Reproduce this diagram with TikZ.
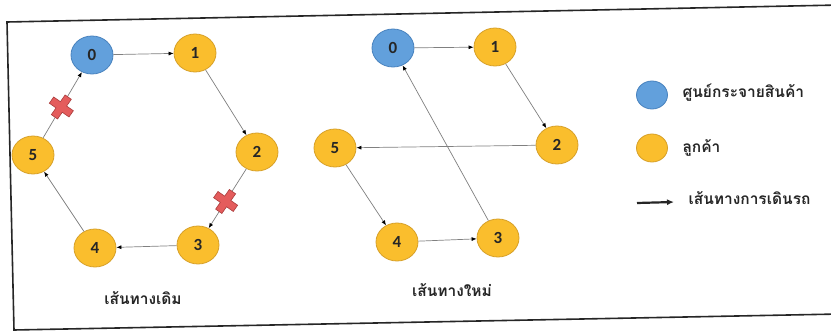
\documentclass[tikz,border=0pt]{standalone}
\usepackage{fontspec}
\usepackage{tikz}
\usetikzlibrary{arrows.meta,shapes.geometric}
\setmainfont{Carlito}
\newfontfamily\thaifont[Script=Thai]{Loma}
\definecolor{depotblue}{RGB}{98,160,220}
\definecolor{depotedge}{RGB}{72,130,190}
\definecolor{custyellow}{RGB}{250,190,45}
\definecolor{custedge}{RGB}{215,160,40}
\definecolor{crossred}{RGB}{228,92,92}
\definecolor{crossedge}{RGB}{170,60,60}
% red cross drawn on a cut route
\newcommand{\cutmark}[1]{
  \begin{scope}[shift={(#1)},rotate=-35]
    \filldraw[fill=crossred,draw=crossedge,line width=0.6pt]
      (-3.8,-12)--(3.8,-12)--(3.8,-3.8)--(12,-3.8)--(12,3.8)--(3.8,3.8)
      --(3.8,12)--(-3.8,12)--(-3.8,3.8)--(-12,3.8)--(-12,-3.8)--(-3.8,-3.8)--cycle;
  \end{scope}
}
\begin{document}
\begin{tikzpicture}[x=1pt,y=-1pt]
  \tikzstyle{depot}=[ellipse,fill=depotblue,draw=depotedge,line width=0.8pt,minimum width=42pt,minimum height=38pt,inner sep=0pt,font=\bfseries\fontsize{17}{17}\selectfont,text=black!85]
  \tikzstyle{customer}=[depot,fill=custyellow,draw=custedge]
  \tikzstyle{route}=[draw=black!50,line width=0.7pt,-{Latex[length=5pt,width=4pt,color=black]}]
  \tikzstyle{caption}=[font=\thaifont\bfseries\fontsize{15.5}{15.5}\selectfont,text=black!85]
  \useasboundingbox (0,0) rectangle (831,331);
  \fill[white] (0,0) rectangle (831,331);
  % frame
  \draw[line width=1.6pt,black!85] (840,5)--(7,22)--(14,330)--(840,314);
  % old route
  \node[depot](a0) at (92,55){0};
  \node[customer](a1) at (195,53){1};
  \node[customer](a2) at (257,152){2};
  \node[customer](a3) at (198,245){3};
  \node[customer](a4) at (95,248){4};
  \node[customer](a5) at (33,155){5};
  \path[route]
    (a0) edge (a1)
    (a1) edge (a2)
    (a2) edge coordinate[pos=0.55](cutB) (a3)
    (a3) edge (a4)
    (a4) edge (a5)
    (a5) edge coordinate[pos=0.47](cutA) (a0);
  \cutmark{cutA}
  \cutmark{cutB}
  \node[caption](oldlbl) at (143,298){เส้นทางเดิม};
  % new route
  \node[depot](b0) at (393,48){0};
  \node[customer](b1) at (495,47){1};
  \node[customer](b2) at (557,145){2};
  \node[customer](b3) at (498,238){3};
  \node[customer](b4) at (397,242){4};
  \node[customer](b5) at (335,148){5};
  \path[route]
    (b0) edge (b1)
    (b1) edge (b2)
    (b2) edge (b5)
    (b5) edge (b4)
    (b4) edge (b3)
    (b3) edge (b0);
  \node[caption](newlbl) at (452,290){เส้นทางใหม่};
  % legend
  \node[depot,minimum width=31pt,minimum height=28pt](keyblue) at (652,95){};
  \node[customer,minimum width=31pt,minimum height=28pt](keyyellow) at (652,148){};
  \coordinate (keyfrom) at (637,203);
  \coordinate (keyto) at (674,202);
  \draw[line width=2.2pt,black!85,-{Latex[length=7pt,width=6pt]}] (keyfrom)--(keyto);
  \node[caption,anchor=west](keyblue txt) at (679,93){ศูนย์กระจายสินค้า};
  \node[caption,anchor=west](keyyellow txt) at (679,148){ลูกค้า};
  \node[caption,anchor=west](keyroute txt) at (685,198){เส้นทางการเดินรถ};
\end{tikzpicture}
\end{document}
